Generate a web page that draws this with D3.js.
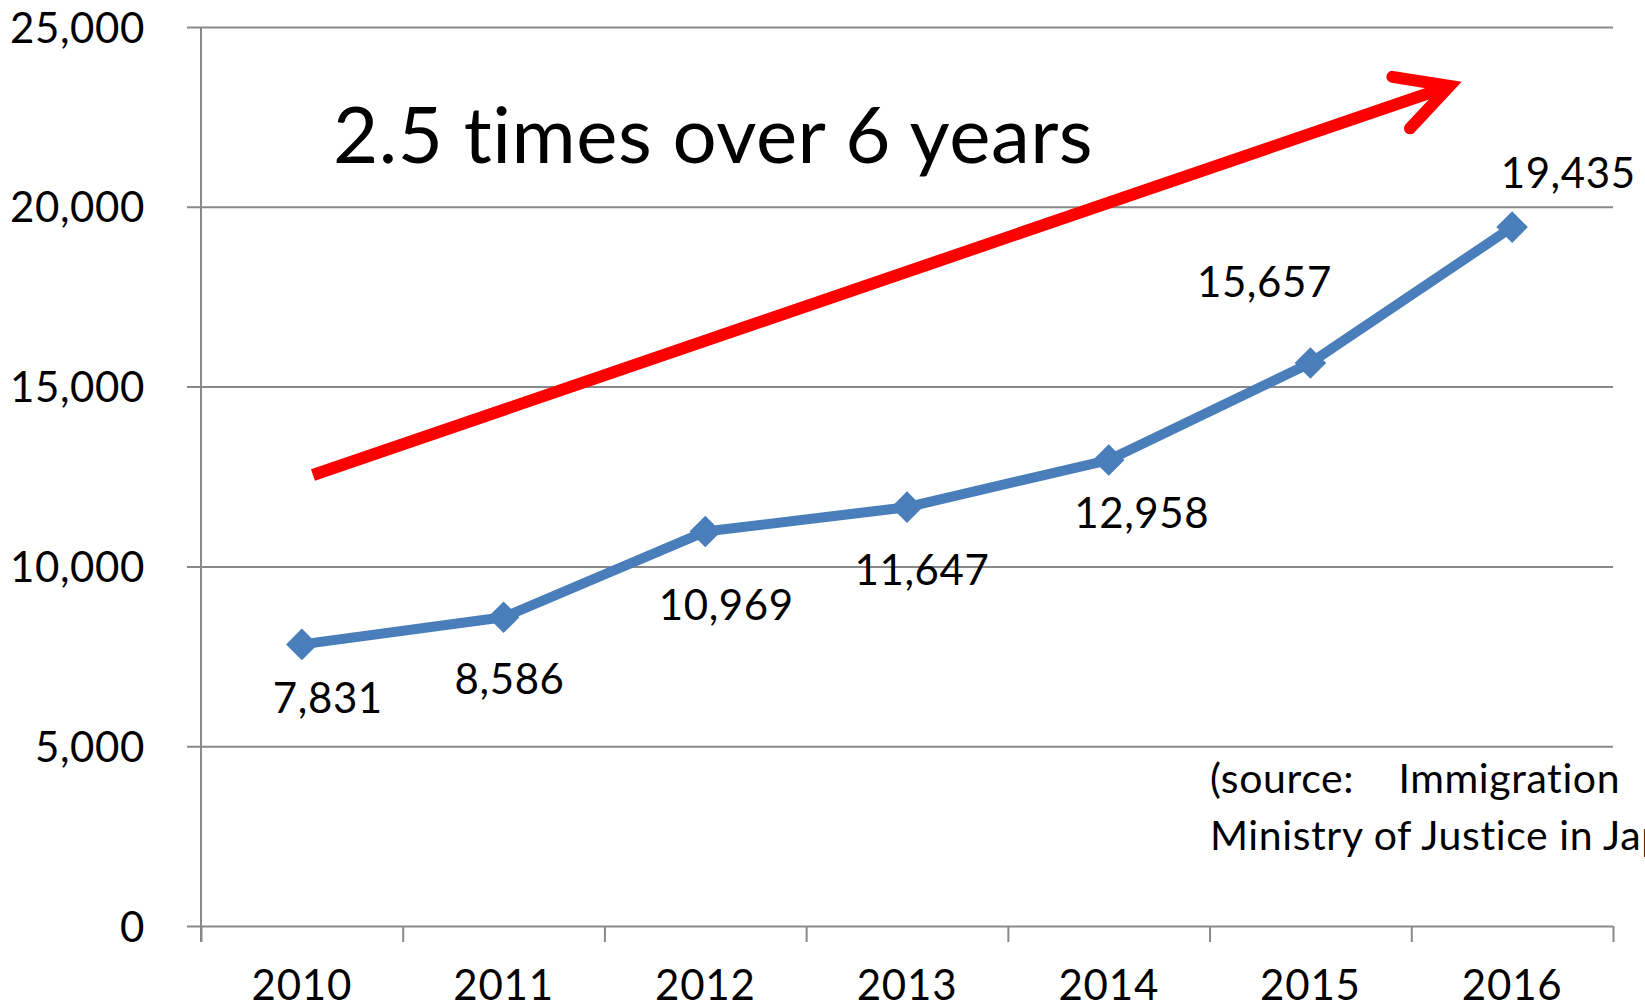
<!DOCTYPE html>
<html lang="en">
<head>
	<meta charset="UTF-8">
	<title>Growth over 6 years</title>
	<script src="https://d3js.org/d3.v7.min.js"></script>
	<style>
		body {
			margin: 0;
			background-color: #ffffff;
		}
		text {
			font-family: "Lato", "Noto Sans", sans-serif;
			fill: #000000;
		}
		.grid line {
			stroke: #898989;
			stroke-width: 2px;
		}
		.axis line, .axis path {
			stroke: #898989;
			stroke-width: 2px;
		}
	</style>
</head>
<body>
<script type="text/javascript">
	// ---- data ----
	var years = ['2010', '2011', '2012', '2013', '2014', '2015', '2016'];
	var counts = [7831, 8586, 10969, 11647, 12958, 15657, 19435];
	var yTicks = [0, 5000, 10000, 15000, 20000, 25000];
	var labelShift = [[26, 53], [6, 62], [21, 73], [15, 63], [33, 53], [-46, -81], [56, -54]];
	// arrow from/to in (category position, value)
	var arrowFrom = [0.555, 12541];
	var arrowTo = [6.19, 23359];
	var noteText = '2.5 times over 6 years';
	var sourceLines = ['(source:    Immigration', 'Ministry of Justice in Japan)'];

	var W = 1645, H = 1007;
	var margin = {top: 27, left: 201, right: 32, bottom: 81};
	var width = W - margin.left - margin.right,
		height = H - margin.top - margin.bottom;

	var svg = d3.select('body').append('svg')
		.attr('width', W)
		.attr('height', H)
		.append('g')
		.attr('transform', 'translate(' + margin.left + ',' + margin.top + ')');

	var x = d3.scaleBand()
		.domain(years)
		.range([0, width]);
	var xPos = d3.scaleLinear()
		.domain([0, years.length])
		.range([0, width]);
	var y = d3.scaleLinear()
		.domain([0, 25000])
		.range([height, 0]);

	//----gridlines + y ticks----//
	svg.append('g')
		.attr('class', 'grid')
		.attr('transform', 'translate(-14,0)')
		.call(d3.axisRight(y).tickValues(yTicks).tickSize(width + 14).tickFormat(''))
		.call(function (g) { g.select('.domain').remove(); });

	svg.append('g')
		.attr('class', 'ylabels')
		.call(d3.axisLeft(y).tickValues(yTicks).tickSize(0).tickPadding(56).tickFormat(d3.format(',')))
		.call(function (g) {
			g.select('.domain').remove();
			g.selectAll('text').attr('font-size', 42).attr('letter-spacing', 0.6).attr('dy', '0.36em');
		});

	// vertical axis line
	svg.append('line')
		.attr('x1', 0).attr('x2', 0)
		.attr('y1', y(25000)).attr('y2', height + 16)
		.attr('stroke', '#898989')
		.attr('stroke-width', 2);

	//----x axis----//
	svg.append('g')
		.attr('class', 'axis')
		.attr('transform', 'translate(0,' + height + ')')
		.call(d3.axisBottom(xPos).ticks(years.length).tickSize(16).tickFormat(''))
		.call(function (g) { g.select('.domain').remove(); });

	svg.append('g')
		.attr('transform', 'translate(0,' + height + ')')
		.call(d3.axisBottom(x).tickSize(0).tickPadding(44))
		.call(function (g) {
			g.select('.domain').remove();
			g.selectAll('text').attr('font-size', 42).attr('letter-spacing', 0.8).attr('dy', '0.72em');
		});

	//----red arrow----//
	var ax0 = xPos(arrowFrom[0]), ay0 = y(arrowFrom[1]),
		ax1 = xPos(arrowTo[0]), ay1 = y(arrowTo[1]);
	var ang = Math.atan2(ay1 - ay0, ax1 - ax0);
	var barb = 58, spread = 28 * Math.PI / 180;
	svg.append('line')
		.attr('x1', ax0).attr('y1', ay0)
		.attr('x2', ax1 - 6 * Math.cos(ang)).attr('y2', ay1 - 6 * Math.sin(ang))
		.attr('stroke', '#ff0000')
		.attr('stroke-width', 12);
	svg.append('path')
		.attr('d', d3.line()([
			[ax1 - barb * Math.cos(ang - spread), ay1 - barb * Math.sin(ang - spread)],
			[ax1, ay1],
			[ax1 - barb * Math.cos(ang + spread), ay1 - barb * Math.sin(ang + spread)]
		]))
		.attr('fill', 'none')
		.attr('stroke', '#ff0000')
		.attr('stroke-width', 12)
		.attr('stroke-linecap', 'round')
		.attr('stroke-linejoin', 'miter')
		.attr('stroke-miterlimit', 10);

	svg.append('text')
		.attr('x', 132)
		.attr('y', 136)
		.attr('font-size', 78)
		.attr('letter-spacing', 0.5)
		.text(noteText);

	//----blue line----//
	var pts = counts.map(function (d, i) {
		return [x(years[i]) + x.bandwidth() / 2, y(d)];
	});
	svg.append('path')
		.attr('d', d3.line()(pts))
		.attr('fill', 'none')
		.attr('stroke', '#4a7ebb')
		.attr('stroke-width', 10)
		.attr('stroke-linejoin', 'round');

	svg.selectAll('.marker')
		.data(pts)
		.enter().append('path')
		.attr('class', 'marker')
		.attr('d', d3.symbol(d3.symbolSquare, 500))
		.attr('fill', '#4a7ebb')
		.attr('transform', function (d) {
			return 'translate(' + d[0] + ',' + d[1] + ') rotate(45)';
		});

	svg.selectAll('.vlabel')
		.data(counts)
		.enter().append('text')
		.attr('class', 'vlabel')
		.attr('text-anchor', 'middle')
		.attr('font-size', 42)
		.attr('letter-spacing', 0.6)
		.attr('dy', '0.36em')
		.attr('x', function (d, i) { return pts[i][0] + labelShift[i][0]; })
		.attr('y', function (d, i) { return pts[i][1] + labelShift[i][1]; })
		.text(function (d) { return d3.format(',')(d); });

	//----source note----//
	svg.append('text')
		.attr('font-size', 41)
		.attr('letter-spacing', 0.6)
		.style('white-space', 'pre')
		.selectAll('tspan')
		.data(sourceLines)
		.enter().append('tspan')
		.attr('x', 1009)
		.attr('y', function (d, i) { return 766 + i * 57; })
		.text(function (d) { return d; });
</script>
</body>
</html>
